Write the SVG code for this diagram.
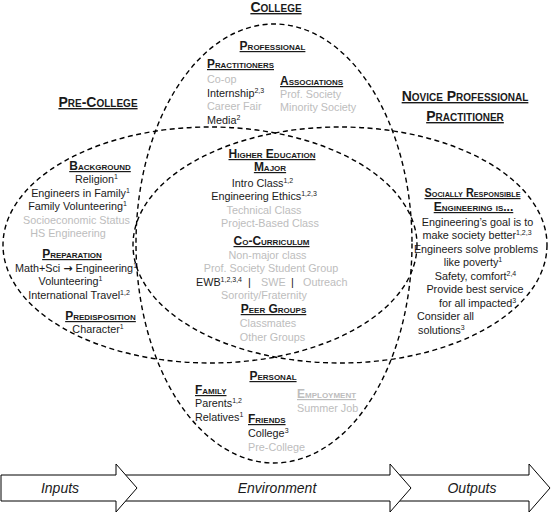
<svg xmlns="http://www.w3.org/2000/svg" width="553" height="513" viewBox="0 0 553 513">
<style>
.el{fill:none;stroke:#000;stroke-width:1.4;stroke-dasharray:5 3.5}
text{font-family:"Liberation Sans",Arial,sans-serif;font-size:10.8px;fill:#1a1a1a}
.g{fill:#bdbdbd}
.c{text-anchor:middle}
.h{font-weight:bold;font-variant:small-caps;font-size:12px;text-decoration:underline}
.H{font-size:14px}
.sup{font-size:7px}
.ar{font-family:"DejaVu Sans",sans-serif;font-weight:bold;font-size:11px}
.arr{fill:#fff;stroke:#000;stroke-width:1}
.al{font-style:italic;font-size:14px}
</style>
<rect width="553" height="513" fill="#fff"/>
<g id="ellipses">
<ellipse id="college-ellipse" class="el" cx="274" cy="243.5" rx="138" ry="219.5"/>
<ellipse id="precollege-ellipse" class="el" cx="210" cy="245" rx="207" ry="118"/>
<ellipse id="novice-ellipse" class="el" cx="340" cy="245" rx="207" ry="118"/>
</g>
<g id="titles">
<text class="h H c" x="276" y="12">College</text>
<text class="h H c" x="98" y="107">Pre-College</text>
<text class="h H c" x="465" y="101">Novice Professional</text>
<text class="h H c" x="465" y="121">Practitioner</text>
</g>
<g id="professional">
<text class="h c" x="272.5" y="50">Professional</text>
<text class="h" x="207" y="68" textLength="67" lengthAdjust="spacingAndGlyphs">Practitioners</text>
<text class="g" x="207" y="83">Co-op</text>
<text x="207" y="96.5">Internship<tspan class="sup" dy="-4">2,3</tspan></text>
<text class="g" x="207" y="110">Career Fair</text>
<text x="207" y="123.5">Media<tspan class="sup" dy="-4">2</tspan></text>
<text class="h" x="280" y="85">Associations</text>
<text class="g" x="280" y="98">Prof. Society</text>
<text class="g" x="280" y="111">Minority Society</text>
</g>
<g id="precollege">
<text class="h c" x="100" y="170">Background</text>
<text class="c" x="96.5" y="183">Religion<tspan class="sup" dy="-4">1</tspan></text>
<text class="c" x="80.5" y="197">Engineers in Family<tspan class="sup" dy="-4">1</tspan></text>
<text class="c" x="77.5" y="210">Family Volunteering<tspan class="sup" dy="-4">1</tspan></text>
<text class="c g" x="76.5" y="224">Socioeconomic Status</text>
<text class="c g" x="68" y="237">HS Engineering</text>
<text class="h c" x="72" y="258">Preparation</text>
<text class="c" x="76" y="272">Math+Sci <tspan class="ar">→</tspan> Engineering<tspan class="sup" dy="-4">1</tspan></text>
<text class="c" x="70.5" y="285">Volunteering<tspan class="sup" dy="-4">1</tspan></text>
<text class="c" x="79" y="299">International Travel<tspan class="sup" dy="-4">1,2</tspan></text>
<text class="h c" x="100.5" y="320">Predisposition</text>
<text class="c" x="98" y="333">Character<tspan class="sup" dy="-4">1</tspan></text>
</g>
<g id="higher-education">
<text class="h c" x="272" y="158">Higher Education</text>
<text class="h c" x="270" y="171">Major</text>
<text class="c" x="262.5" y="186.5">Intro Class<tspan class="sup" dy="-4">1,2</tspan></text>
<text class="c" x="264" y="200">Engineering Ethics<tspan class="sup" dy="-4">1,2,3</tspan></text>
<text class="c g" x="264" y="214">Technical Class</text>
<text class="c g" x="270" y="227">Project-Based Class</text>
<text class="h c" x="271.5" y="245">Co-Curriculum</text>
<text class="c g" x="267.5" y="259">Non-major class</text>
<text class="c g" x="271" y="272">Prof. Society Student Group</text>
<text x="196" y="286">EWB<tspan class="sup" dy="-4">1,2,3,4</tspan></text>
<text x="248" y="286">|</text>
<text class="g" x="261" y="286">SWE</text>
<text x="291" y="286">|</text>
<text class="g" x="303" y="286">Outreach</text>
<text class="c g" x="264" y="299">Sorority/Fraternity</text>
<text class="h c" x="273.5" y="313">Peer Groups</text>
<text class="c g" x="268" y="327">Classmates</text>
<text class="c g" x="272.5" y="341">Other Groups</text>
</g>
<g id="novice">
<text class="h c" x="472.5" y="197" textLength="96" lengthAdjust="spacingAndGlyphs">Socially Responsible</text>
<text class="h c" x="473.5" y="211">Engineering is...</text>
<text class="c" x="477.5" y="226">Engineering’s goal is to</text>
<text class="c" x="477" y="239">make society better<tspan class="sup" dy="-4">1,2,3</tspan></text>
<text class="c" x="476" y="253">Engineers solve problems</text>
<text class="c" x="473" y="266">like poverty<tspan class="sup" dy="-4">1</tspan></text>
<text class="c" x="475.5" y="280">Safety, comfort<tspan class="sup" dy="-4">2,4</tspan></text>
<text class="c" x="475" y="293">Provide best service</text>
<text class="c" x="477.5" y="307">for all impacted<tspan class="sup" dy="-4">3</tspan></text>
<text x="417" y="320">Consider all</text>
<text x="418" y="334">solutions<tspan class="sup" dy="-4">3</tspan></text>
</g>
<g id="personal">
<text class="h c" x="273" y="380">Personal</text>
<text class="h" x="195" y="394">Family</text>
<text x="195" y="407">Parents<tspan class="sup" dy="-4">1,2</tspan></text>
<text x="195" y="421">Relatives<tspan class="sup" dy="-4">1</tspan></text>
<text class="h g" x="297" y="398">Employment</text>
<text class="g" x="297" y="412">Summer Job</text>
<text class="h" x="248" y="423">Friends</text>
<text x="248" y="437">College<tspan class="sup" dy="-4">3</tspan></text>
<text class="g" x="248" y="451">Pre-College</text>
</g>
<g id="arrows">
<polygon class="arr" points="390,475 529,475 529,464 550,488 529,512 529,501 390,501"/>
<polygon class="arr" points="116,475 390,475 390,464 411,488 390,512 390,501 116,501"/>
<polygon class="arr" points="1,475 116,475 116,464 137,488 116,512 116,501 1,501"/>
<text class="al c" x="60" y="493">Inputs</text>
<text class="al c" x="277" y="493">Environment</text>
<text class="al c" x="472" y="493">Outputs</text>
</g>
</svg>
